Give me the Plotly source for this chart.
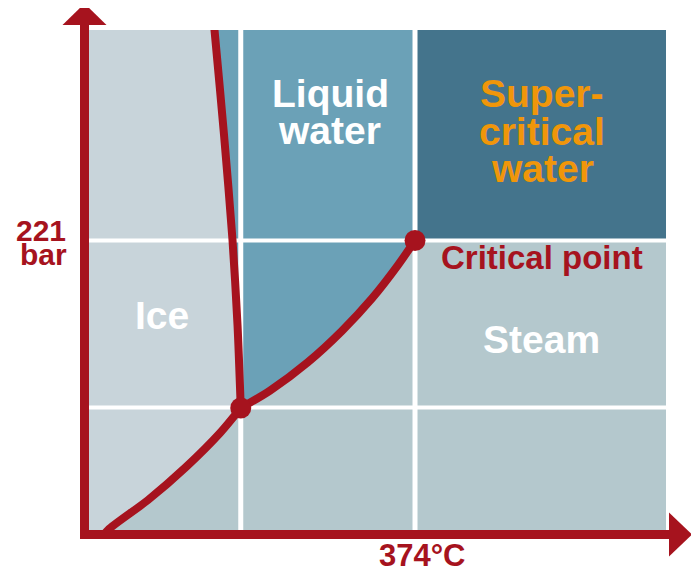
import plotly.graph_objects as go

# ---- data (schematic units: x 0..100 temperature, y 0..100 pressure) ----
grid_x = [26.3, 56.5]          # triple-point and critical temperatures
grid_y = [24.5, 57.9]          # triple-point and critical pressures

triple_point = (26.3, 24.4)
critical_point = (56.5, 57.9)

melt_x = [21.5, 21.75, 23.4, 24.87, 25.74, 26.3]
melt_y = [103, 100, 79, 58, 41, 24.4]

sub_x = [2.1, 3.29, 10.23, 16.81, 22.70, 26.3]
sub_y = [-1.8, 0, 6, 12.6, 19.4, 24.4]

vap_x = [26.3, 31.37, 37.95, 43.85, 49.05, 53.55, 56.5]
vap_y = [24.4, 27.88, 33.58, 39.84, 46.32, 52.98, 57.9]

x_label = "374°C"
y_label = ["221", "bar"]

# ---- styles ----
RED = "#A6131E"
ICE = "#C8D4DA"
STEAM = "#B4C8CD"
LIQUID = "#6BA1B7"
SUPER = "#44748C"
ORANGE = "#F0960A"
FONT = "Liberation Sans"

X0, X1, Y0, Y1 = 0, 100, 0, 100
TOP = 103

fig = go.Figure()

# steam background
fig.add_trace(go.Scatter(x=[X0 - 2, X1 + 2, X1 + 2, X0 - 2], y=[Y0 - 2, Y0 - 2, TOP, TOP],
                         fill="toself", fillcolor=STEAM, mode="none", hoverinfo="skip"))
# ice region: left of melting curve, above sublimation curve
ice_x = [X0 - 2, X0 - 2] + sub_x + melt_x[::-1][1:]
ice_y = [TOP, Y0 - 2] + sub_y + melt_y[::-1][1:]
fig.add_trace(go.Scatter(x=ice_x, y=ice_y, fill="toself", fillcolor=ICE, mode="none", hoverinfo="skip"))
# liquid region: right of melting curve, above vaporisation curve
liq_x = melt_x + vap_x[1:] + [critical_point[0]]
liq_y = melt_y + vap_y[1:] + [TOP]
fig.add_trace(go.Scatter(x=liq_x, y=liq_y, fill="toself", fillcolor=LIQUID, mode="none", hoverinfo="skip"))
# supercritical region
fig.add_trace(go.Scatter(x=[critical_point[0], X1 + 2, X1 + 2, critical_point[0]],
                         y=[critical_point[1], critical_point[1], TOP, TOP],
                         fill="toself", fillcolor=SUPER, mode="none", hoverinfo="skip"))

# white grid lines
for gx in grid_x:
    fig.add_trace(go.Scatter(x=[gx, gx], y=[Y0 - 2, TOP], mode="lines",
                             line=dict(color="white", width=5), hoverinfo="skip"))
for gy in grid_y:
    fig.add_trace(go.Scatter(x=[X0 - 2, X1 + 2], y=[gy, gy], mode="lines",
                             line=dict(color="white", width=4), hoverinfo="skip"))

# phase boundaries
for cx, cy in [(melt_x, melt_y), (sub_x, sub_y), (vap_x, vap_y)]:
    fig.add_trace(go.Scatter(x=cx, y=cy, mode="lines",
                             line=dict(color=RED, width=8, shape="spline", smoothing=0.8),
                             hoverinfo="skip"))
# triple and critical points
fig.add_trace(go.Scatter(x=[triple_point[0], critical_point[0]], y=[triple_point[1], critical_point[1]],
                         mode="markers", marker=dict(color=RED, size=21, line=dict(width=0)),
                         hoverinfo="skip"))

# ---- layout helpers (page pixel -> paper); page has an 8px body margin ----
OFF = 8
W, H = 699, 574
PL, PR, PT, PB = 89, 666, 30, 530
def px(x):
    return (x - PL) / (PR - PL)
def py(y):
    return (PB - y) / (PB - PT)

shapes = [
    dict(type="rect", xref="paper", yref="paper", x0=px(80), x1=px(89), y0=py(539), y1=py(24),
         fillcolor=RED, line=dict(width=0), layer="above"),
    dict(type="rect", xref="paper", yref="paper", x0=px(80), x1=px(670), y0=py(539), y1=py(530),
         fillcolor=RED, line=dict(width=0), layer="above"),
    dict(type="path", xref="paper", yref="paper",
         path=f"M {px(62.5)},{py(25)} L {px(84.5)},{py(3.5)} L {px(106.5)},{py(25)} Z",
         fillcolor=RED, line=dict(width=0), layer="above"),
    dict(type="path", xref="paper", yref="paper",
         path=f"M {px(669)},{py(512.5)} L {px(692)},{py(534.5)} L {px(669)},{py(556.5)} Z",
         fillcolor=RED, line=dict(width=0), layer="above"),
]

def ann(text, x, y, size, color):
    return dict(text=text, x=px(x), y=py(y), xref="paper", yref="paper", showarrow=False,
                xanchor="center", yanchor="middle", borderpad=0,
                font=dict(family=FONT, size=size, color=color, weight="bold"))

BIG = 39
annotations = [
    ann("Liquid", 330, 93.5, BIG, "white"),
    ann("water", 329, 130.8, BIG, "white"),
    ann("Super-", 541.5, 93.5, BIG, ORANGE),
    ann("critical", 542, 131.3, BIG, ORANGE),
    ann("water", 542, 168.8, BIG, ORANGE),
    ann("Ice", 161.5, 315.8, BIG, "white"),
    ann("Steam", 541.5, 339.8, BIG, "white"),
    ann("Critical point", 542, 258.0, 33, RED),
    ann(y_label[0], 40.5, 230.6, 30, RED),
    ann(y_label[1], 43, 254.6, 30, RED),
    ann(x_label, 422, 555.5, 31, RED),
]

fig.update_layout(
    width=W - OFF, height=H - OFF, autosize=False,
    margin=dict(l=PL - OFF, r=W - PR, t=PT - OFF, b=H - PB, pad=0),
    paper_bgcolor="white", plot_bgcolor="white",
    showlegend=False,
    xaxis=dict(range=[X0, X1], visible=False, fixedrange=True),
    yaxis=dict(range=[Y0, Y1], visible=False, fixedrange=True),
    shapes=shapes, annotations=annotations,
)

fig.write_html("out.html", config={"displayModeBar": False})
